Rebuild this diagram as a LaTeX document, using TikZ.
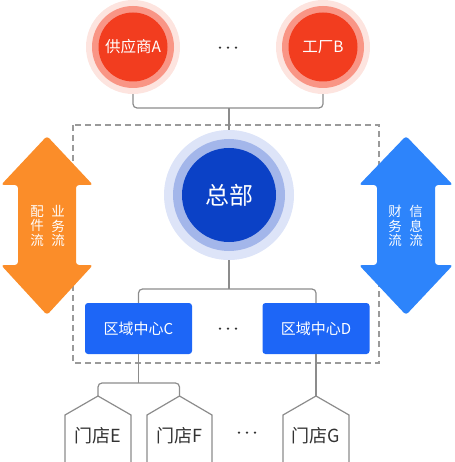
\documentclass[tikz,border=0pt]{standalone}
\usepackage{fontspec}
\setmainfont{Noto Sans CJK SC}
\definecolor{redin}{HTML}{F23D1F}
\definecolor{redmid}{HTML}{F99585}
\definecolor{redout}{HTML}{FDE4DF}
\definecolor{hqin}{HTML}{0B41C6}
\definecolor{hqmid}{HTML}{A3B6EA}
\definecolor{hqout}{HTML}{DDE4F8}
\definecolor{boxblue}{HTML}{1D66F7}
\definecolor{orangearr}{HTML}{FB8D29}
\definecolor{bluearr}{HTML}{2D84FB}
\definecolor{linegray}{HTML}{8C8C8C}
\definecolor{dashgray}{HTML}{9A9A9A}
\definecolor{txtgray}{HTML}{333333}
\newcommand{\mydots}{\tikz[baseline]{\foreach \i in {0,1,2} \fill[txtgray] (\i*8pt,2pt) circle (1.3pt);}}
\tikzset{
  conn/.style={draw=linegray, line width=1.2pt, rounded corners=4pt},
  halo/.style={circle, inner sep=0pt, minimum size=#1},
  redtxt/.style={text=white, font=\fontsize{15.5}{18}\selectfont},
  regionbox/.style={fill=boxblue, rounded corners=3pt, minimum width=107pt, minimum height=51pt, inner sep=0pt, text=white, font=\fontsize{15}{18}\selectfont},
  storetxt/.style={text=txtgray, font=\fontsize{18}{20}\selectfont, inner sep=0pt},
  storeshape/.style={draw=linegray, line width=1.2pt, fill=white},
  dotsnode/.style={inner sep=0pt},
  arrtxt/.style={text=white, align=center, font=\fontsize{13.5}{14.5}\selectfont, inner sep=0pt},
}
\begin{document}
\begin{tikzpicture}[x=1pt,y=-1pt]
\useasboundingbox (0,0) rectangle (454,462);
% dashed frame
\draw[dashgray, line width=1.3pt, dash pattern=on 6pt off 4pt] (73,125) rectangle (379,363);
% arrows
\fill[orangearr, rounded corners=3pt] (47,136) -- (93,185) -- (76,185) -- (76,265) -- (93,265) -- (47,315) -- (1,265) -- (18,265) -- (18,185) -- (1,185) -- cycle;
\fill[bluearr, rounded corners=3pt] (406,136) -- (453,185) -- (435,185) -- (435,265) -- (453,265) -- (406,315) -- (359,265) -- (377,265) -- (377,185) -- (359,185) -- cycle;
\node[arrtxt] (t1) at (37,226) {配\\件\\流};
\node[arrtxt] (t2) at (58,226) {业\\务\\流};
\node[arrtxt] (t3) at (395,226) {财\\务\\流};
\node[arrtxt] (t4) at (416,226) {信\\息\\流};
% top circles
\node[halo=94pt, fill=redout] (A) at (133,47) {};
\node[halo=82pt, fill=redmid] at (A) {};
\node[halo=69pt, fill=redin, redtxt] (Ain) at (A) {供应商A};
\node[halo=94pt, fill=redout] (B) at (323,47) {};
\node[halo=82pt, fill=redmid] at (B) {};
\node[halo=69pt, fill=redin, redtxt] (Bin) at (B) {工厂B};
\node[dotsnode] (dots1) at (228,48) {\mydots};
% HQ
\node[halo=130pt, fill=hqout] (HQ) at (229,195) {};
\node[halo=112pt, fill=hqmid] at (HQ) {};
\node[halo=94pt, fill=hqin, text=white, font=\fontsize{24}{28}\selectfont] (HQin) at (HQ) {总部};
% top connectors
\coordinate (topj) at (229,108);
\draw[conn] (A.south) -- (133,108) -- (323,108) -- (B.south);
\draw[conn] (topj) -- (HQ.north);
% region boxes
\node[regionbox] (C) at (138.5,328.5) {区域中心C};
\node[regionbox] (D) at (316,328.5) {区域中心D};
\node[dotsnode] (dots2) at (228,329) {\mydots};
\coordinate (midj) at (229,289);
\draw[conn] (HQ.south) -- (midj);
\draw[conn] (C.north) -- (138.5,289) -- (316,289) -- (D.north);
% stores
\coordinate (Etop) at (98,396);
\coordinate (Ftop) at (179.5,396);
\coordinate (Gtop) at (316,396);
\draw[storeshape] (65,462) -- (65,415) -- (Etop) -- (131,415) -- (131,462);
\draw[storeshape] (147,462) -- (147,415) -- (Ftop) -- (212,415) -- (212,462);
\draw[storeshape] (283,462) -- (283,415) -- (Gtop) -- (349,415) -- (349,462);
\node[storetxt] (E) at (98,436) {门店E};
\node[storetxt] (F) at (179.5,436) {门店F};
\node[storetxt] (G) at (316,436) {门店G};
\node[dotsnode] (dots3) at (247,433) {\mydots};
\coordinate (cj) at (138.5,383);
\draw[conn] (C.south) -- (cj);
\draw[conn] (Etop) -- (98,383) -- (179.5,383) -- (Ftop);
\draw[conn] (D.south) -- (Gtop);
\end{tikzpicture}
\end{document}
